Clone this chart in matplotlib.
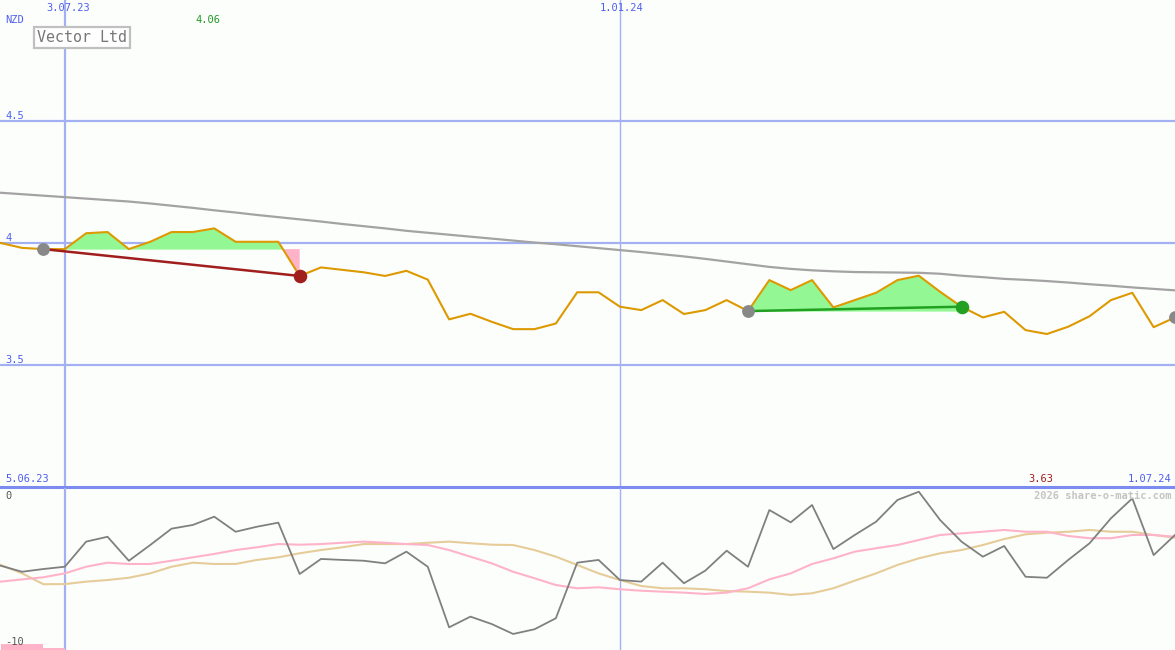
import matplotlib
matplotlib.use("Agg")
import matplotlib.pyplot as plt
import pandas as pd

# weekly closes, Vector Ltd (NZD)
dates = pd.date_range("2023-06-12", "2024-07-01", freq="W-MON")
price = [4.00, 3.98, 3.975, 3.975, 4.04, 4.045, 3.975, 4.005, 4.045, 4.045,
         4.06, 4.005, 4.005, 4.005, 3.865, 3.90, 3.89, 3.88, 3.865, 3.886,
         3.85, 3.687, 3.71, 3.677, 3.647, 3.647, 3.67, 3.798, 3.798, 3.739,
         3.725, 3.766, 3.709, 3.725, 3.766, 3.721, 3.848, 3.807, 3.848, 3.736,
         3.766, 3.796, 3.848, 3.866, 3.80, 3.739, 3.695, 3.718, 3.643, 3.627,
         3.657, 3.70, 3.766, 3.796, 3.655, 3.695]
long_ma = [4.206, 4.200, 4.194, 4.188, 4.182, 4.176, 4.170, 4.162, 4.153, 4.144,
           4.134, 4.125, 4.115, 4.106, 4.097, 4.088, 4.078, 4.069, 4.060, 4.050,
           4.042, 4.034, 4.026, 4.018, 4.010, 4.002, 3.995, 3.987, 3.979, 3.971,
           3.963, 3.954, 3.945, 3.935, 3.924, 3.913, 3.902, 3.894, 3.888, 3.884,
           3.881, 3.880, 3.879, 3.878, 3.874, 3.866, 3.860, 3.853, 3.849, 3.844,
           3.838, 3.831, 3.825, 3.818, 3.812, 3.806]

# lower panel oscillators
osc = [-4.80, -5.17, -5.00, -4.86, -3.31, -3.01, -4.49, -3.52, -2.51, -2.28,
       -1.77, -2.70, -2.39, -2.14, -5.31, -4.38, -4.44, -4.49, -4.65, -3.93,
       -4.86, -8.60, -7.94, -8.40, -9.01, -8.72, -8.04, -4.61, -4.44, -5.68,
       -5.78, -4.61, -5.88, -5.10, -3.87, -4.86, -1.36, -2.12, -1.05, -3.77,
       -2.90, -2.08, -0.74, -0.23, -1.98, -3.31, -4.24, -3.58, -5.48, -5.54,
       -4.44, -3.41, -1.87, -0.64, -4.14, -2.90]
osc_fast = [-5.78, -5.64, -5.51, -5.27, -4.86, -4.61, -4.69, -4.69, -4.49, -4.28,
            -4.07, -3.83, -3.66, -3.46, -3.50, -3.46, -3.38, -3.31, -3.38, -3.46,
            -3.52, -3.83, -4.24, -4.65, -5.17, -5.57, -5.99, -6.19, -6.13, -6.25,
            -6.34, -6.40, -6.46, -6.54, -6.46, -6.19, -5.64, -5.27, -4.69, -4.34,
            -3.93, -3.72, -3.52, -3.21, -2.90, -2.80, -2.70, -2.59, -2.70, -2.70,
            -2.96, -3.10, -3.10, -2.90, -2.90, -3.01]
osc_slow = [-4.75, -5.27, -5.94, -5.93, -5.78, -5.68, -5.54, -5.27, -4.86, -4.61,
            -4.69, -4.69, -4.44, -4.28, -4.03, -3.83, -3.66, -3.46, -3.46, -3.46,
            -3.38, -3.31, -3.41, -3.50, -3.52, -3.83, -4.24, -4.75, -5.27, -5.68,
            -6.05, -6.19, -6.19, -6.25, -6.36, -6.40, -6.46, -6.60, -6.50, -6.19,
            -5.72, -5.27, -4.75, -4.34, -4.03, -3.83, -3.52, -3.15, -2.86, -2.76,
            -2.70, -2.59, -2.70, -2.70, -2.90, -3.07]
bar_vals = [-9.65, -9.65, -9.85, -9.85]

# trades: (entry index, exit index)
trades = [(2, 14), (35, 45)]
open_entry = 55

price_grid = [3.5, 4.0, 4.5]
date_marks = ["2023-07-03", "2024-01-01"]

W, H = 1175, 650
BG = "#fcfefc"
BLUE = "#a3b1f2"
TXT_BLUE = "#4f5ef0"


def fx(x):
    return x / W


def fy(y):
    return 1 - y / H


fig = plt.figure(figsize=(W / 100, H / 100), dpi=100, facecolor=BG)
top = fig.add_axes([0, fy(487), 1, 487 / H])
bot = fig.add_axes([0, 0, 1, 162 / H])
xlim = (pd.Timestamp("2023-06-11 18:00"), pd.Timestamp("2024-07-01"))

for ax in (top, bot):
    ax.set_facecolor(BG)
    ax.set_xlim(*xlim)
    ax.axis("off")

top.set_ylim(3.0, 4.996)
bot.set_ylim(-10, 0)

for g in price_grid:
    top.axhline(g, color=BLUE, lw=1.6, zorder=1)
top.axvline(pd.Timestamp(date_marks[0]), color=BLUE, lw=1.6, zorder=1)
top.axvline(pd.Timestamp(date_marks[1]), color=BLUE, lw=1.0, zorder=1)
bot.axvline(pd.Timestamp(date_marks[0]), color=BLUE, lw=1.6, zorder=1)
bot.axvline(pd.Timestamp(date_marks[1]), color=BLUE, lw=1.0, zorder=1)
top.axhline(3.0, color="#7b8bf0", lw=2.2, zorder=5, clip_on=False)

# trade shading
for a, b in trades:
    xs = dates[a:b + 1]
    ps = price[a:b + 1]
    base = price[a]
    top.fill_between(xs, ps, base, where=[p >= base for p in ps],
                     interpolate=True, color="#93f893", lw=0, zorder=2)
    top.fill_between(xs, ps, base, where=[p <= base for p in ps],
                     interpolate=True, color="#ffb3c8", lw=0, zorder=2)

top.plot(dates, long_ma, color="#a3a3a3", lw=1.6, zorder=3)
top.plot(dates, price, color="#dd9900", lw=1.5, zorder=4)

for a, b in trades:
    win = price[b] > price[a]
    c = "#22a022" if win else "#a01e1e"
    top.plot([dates[a], dates[b]], [price[a], price[b]], color=c, lw=1.8, zorder=5)
    top.scatter([dates[a]], [price[a]], s=85, color="#888888", zorder=6, lw=0)
    top.scatter([dates[b]], [price[b]], s=95, color=c, zorder=6, lw=0)
top.scatter([dates[open_entry]], [price[open_entry]], s=85, color="#888888",
            zorder=6, lw=0, clip_on=False)

bot.fill_between(dates[:4], bar_vals, -10, step="post", color="#ffb3c8", lw=0)
bot.plot(dates, osc_slow, color="#e6cc99", lw=1.5, zorder=3)
bot.plot(dates, osc_fast, color="#ffb3c8", lw=1.5, zorder=3)
bot.plot(dates, osc, color="#808080", lw=1.3, zorder=4)

mono = "DejaVu Sans Mono"
fs = 7.5
fig.text(fx(5), fy(20), "NZD", color=TXT_BLUE, fontsize=fs, family=mono, va="center")
fig.text(fx(68), fy(8), "3.07.23", color=TXT_BLUE, fontsize=fs, family=mono, va="center", ha="center")
fig.text(fx(622), fy(8), "1.01.24", color=TXT_BLUE, fontsize=fs, family=mono, va="center", ha="center")
fig.text(fx(208), fy(20), "%.2f" % max(price), color="#229922", fontsize=fs, family=mono, va="center", ha="center")
fig.text(fx(37), fy(37), "Vector Ltd", color="#777777", fontsize=10.8, family=mono, va="center",
         bbox=dict(boxstyle="square,pad=0.2", fc="#fdfefd", ec="#c0c0c0", lw=1.6))
for g, lab in zip(price_grid, ["3.5", "4", "4.5"]):
    yy = 243 - (g - 4.0) * 244
    fig.text(fx(5), fy(yy - 5), lab, color=TXT_BLUE, fontsize=fs, family=mono, va="center")
fig.text(fx(5), fy(479), "5.06.23", color=TXT_BLUE, fontsize=fs, family=mono, va="center")
fig.text(fx(1041), fy(479), "%.2f" % min(price), color="#a01e1e", fontsize=fs, family=mono, va="center", ha="center")
fig.text(fx(1171), fy(479), "1.07.24", color=TXT_BLUE, fontsize=fs, family=mono, va="center", ha="right")
fig.text(fx(5), fy(496), "0", color="#555555", fontsize=fs, family=mono, va="center")
fig.text(fx(5), fy(642), "-10", color="#555555", fontsize=fs, family=mono, va="center")
fig.text(fx(1172), fy(496), "2026 share-o-matic.com", color="#c4c4c4", fontsize=fs,
         family=mono, va="center", ha="right", weight="bold")

fig.savefig("out.png", dpi=100, facecolor=BG)
